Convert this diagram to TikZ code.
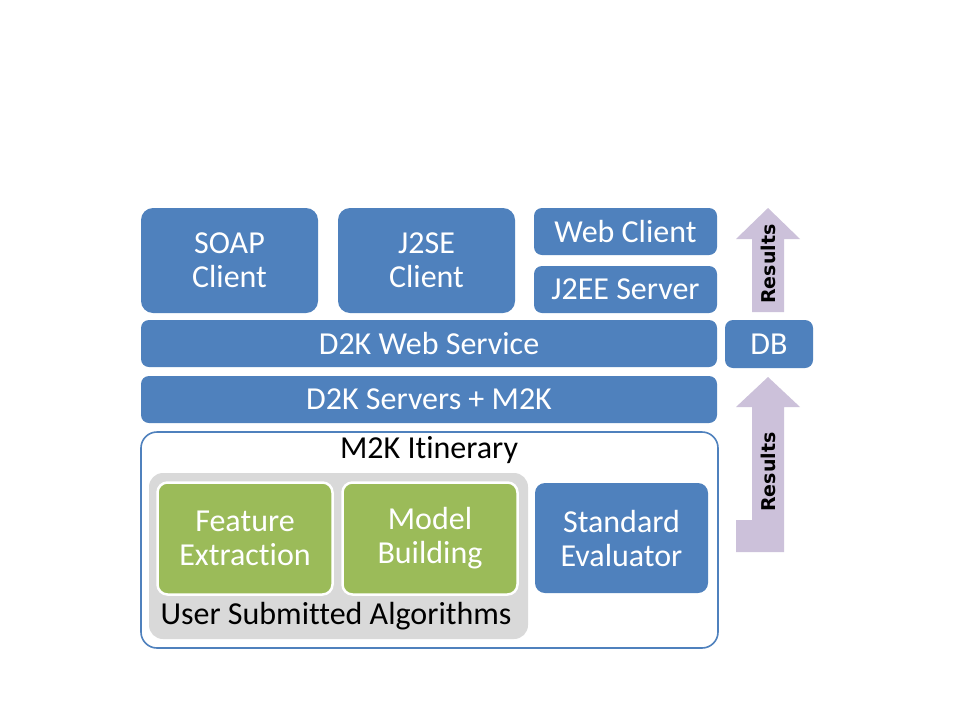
\documentclass[tikz,border=0pt]{standalone}
\usepackage{fontspec}
\setmainfont[Ligatures={NoCommon}]{Carlito}
\newfontfamily\resfont{DejaVu Sans}
\definecolor{offblue}{HTML}{4F81BD}
\definecolor{offgreen}{HTML}{9BBB59}
\definecolor{offgray}{HTML}{D9D9D9}
\definecolor{offlav}{HTML}{CCC1DA}
\tikzset{
  bluebox/.style={fill=offblue, draw=none, rounded corners=8pt, text=white, align=center, inner sep=0pt, font=\fontsize{32}{34}\selectfont},
  greenbox/.style={fill=offgreen, draw=white, line width=2.5pt, rounded corners=10pt, text=white, align=center, inner sep=0pt, font=\fontsize{32}{34}\selectfont},
  blacklabel/.style={text=black, inner sep=0pt, font=\fontsize{32}{34}\selectfont},
  reslabel/.style={text=black, inner sep=0pt, rotate=90, font=\resfont\bfseries\fontsize{19}{21}\selectfont},
  resarrow/.style={fill=offlav, draw=none}
}
\begin{document}
\begin{tikzpicture}[x=1pt,y=-1pt]
\useasboundingbox[fill=white] (0,0) rectangle (960,720);
% top row
\node[bluebox, rounded corners=12pt, minimum width=177pt, minimum height=105pt] (soap) at (229.5,260.5) {SOAP\\Client};
\node[bluebox, rounded corners=12pt, minimum width=177pt, minimum height=105pt] (j2se) at (426.5,260.5) {J2SE\\Client};
\node[bluebox, minimum width=183pt, minimum height=47pt] (web) at (625.5,231.5) {Web Client};
\node[bluebox, minimum width=183pt, minimum height=47pt] (j2ee) at (625.5,289.5) {J2EE Server};
% layers
\node[bluebox, minimum width=576pt, minimum height=47pt] (d2kws) at (429,343.5) {D2K Web Service};
\node[bluebox, minimum width=88pt, minimum height=48pt] (db) at (769,344) {DB};
\node[bluebox, minimum width=576pt, minimum height=47pt] (d2ks) at (429,399.5) {D2K Servers + M2K};
% itinerary container
\node[draw=offblue, line width=1.6pt, fill=white, rounded corners=16pt, minimum width=577pt, minimum height=216pt, inner sep=0pt] (itin) at (429.5,540) {};
\node[blacklabel] (itintitle) at (429,450) {M2K Itinerary};
\node[fill=offgray, draw=none, rounded corners=14pt, minimum width=379pt, minimum height=166pt, inner sep=0pt] (usa) at (338.5,556) {};
\node[greenbox, minimum width=175pt, minimum height=112pt] (feat) at (245,538.5) {Feature\\Extraction};
\node[greenbox, minimum width=175pt, minimum height=112pt] (model) at (430,538.5) {Model\\Building};
\node[blacklabel] (usalabel) at (336,616) {User Submitted Algorithms};
\node[bluebox, rounded corners=10pt, minimum width=173pt, minimum height=110pt] (stdeval) at (621.5,538) {Standard\\Evaluator};
% result arrows
\fill[resarrow] (768,208) -- (800,239) -- (784,239) -- (784,312) -- (752,312) -- (752,239) -- (736,239) -- cycle;
\node[reslabel] (res1) at (768,264) {Results};
\fill[resarrow] (768,377) -- (800,407) -- (784,407) -- (784,552) -- (736,552) -- (736,520) -- (752,520) -- (752,407) -- (736,407) -- cycle;
\node[reslabel] (res2) at (768,472) {Results};
\end{tikzpicture}
\end{document}
